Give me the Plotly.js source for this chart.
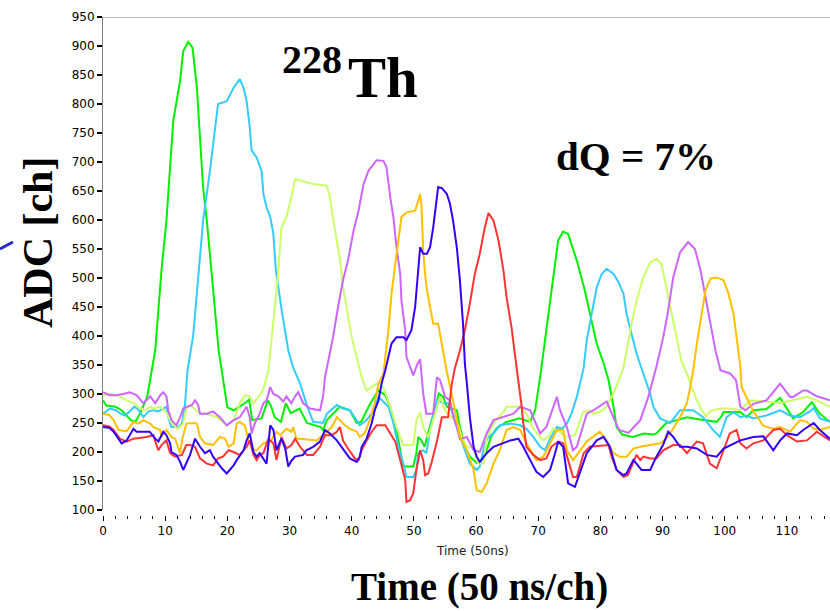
<!DOCTYPE html>
<html>
<head>
<meta charset="utf-8">
<script src="https://cdn.plot.ly/plotly-3.0.1.min.js"></script>
<style>
  html, body { margin: 0; padding: 0; background: #ffffff; }
  #chart { width: 830px; height: 611px; }
</style>
</head>
<body>
<div id="chart"></div>
<script>
// Pulse traces: [time (50 ns samples), ADC channel]
const green = [[0,289],[0.5,280],[2,278],[3,272],[4.5,255],[5.2,252],[6,267],[7.1,295],[8.4,375],[9.4,513],[10.2,599],[10.8,685],[11.3,771],[12.4,840],[12.9,891],[13.7,907],[14.4,897],[15.1,828],[15.6,731],[16.1,656],[16.7,599],[17.2,542],[17.5,513],[18.6,375],[20,277],[21,272],[22.5,282],[23.5,290],[24,255],[25.5,258],[26.5,289],[27,280],[27.6,260],[28.6,252],[29.4,284],[30.2,267],[31.6,275],[32.8,250],[35,243],[35.4,238],[36,255],[38.1,278],[39.7,272],[40.8,250],[41.5,252],[43,284],[44.3,306],[45.4,298],[46.2,278],[47.2,238],[47.8,203],[48.3,175],[49.9,175],[50.4,198],[50.7,226],[51.2,220],[51.7,209],[52.6,243],[53.6,284],[54,301],[54.7,295],[55.3,278],[56.9,272],[57.4,243],[58.2,209],[59,192],[60.1,181],[60.9,186],[61.7,203],[62.4,226],[63.3,241],[64.9,252],[67,258],[68.7,252],[69.5,272],[70.3,329],[71.3,410],[72.4,496],[73.2,565],[74,580],[74.8,576],[76.2,530],[77.5,478],[78.3,439],[79.4,387],[80.5,353],[81.3,324],[82.1,278],[82.6,243],[83.5,230],[85.2,226],[87,232],[88.5,230],[89,232],[90.6,250],[92.3,255],[93.9,260],[95.5,257],[97.1,255],[98.7,252],[99.5,262],[99.8,269],[102.5,269],[103.5,260],[104.6,272],[106.7,274],[108.9,293],[110,274],[111,258],[112.6,269],[114,286],[115.3,266],[116.9,252]];

const cyan = [[0,266],[1.1,275],[2.1,272],[2.7,267],[3.5,263],[4.3,270],[5,278],[5.5,275],[6.5,260],[7.3,270],[8.1,272],[8.9,270],[9.7,275],[10.2,278],[10.5,260],[11,243],[12.1,243],[12.7,249],[13.2,284],[13.6,341],[14.5,400],[15.6,530],[16.1,599],[17.2,685],[18,754],[18.5,800],[19.9,805],[21,828],[22,843],[22.6,828],[23.1,805],[23.6,760],[23.9,720],[24.7,708],[25.5,685],[25.8,645],[26.3,622],[26.9,605],[27.4,576],[27.8,513],[28.8,440],[29.8,375],[30.6,345],[31.7,318],[32.8,280],[33.3,266],[33.8,252],[35.4,250],[36,266],[37.6,281],[38.6,275],[39.7,272],[40.8,255],[41.3,246],[42.4,255],[43.5,272],[44.3,295],[45.1,286],[45.9,278],[46.7,250],[47.5,209],[48.3,180],[48.8,157],[49.9,157],[50.4,169],[50.7,198],[51.5,203],[52,198],[52.6,238],[53.7,289],[54.7,284],[55.5,284],[56.3,266],[56.9,243],[57.4,226],[58.2,203],[59,180],[60.1,169],[60.6,175],[61.4,215],[62,226],[62.8,232],[63.8,246],[65.5,249],[67.1,246],[68.1,240],[69.2,226],[70.3,209],[71.1,203],[71.9,223],[73,243],[73.8,240],[74.6,249],[75.4,268],[76.2,295],[76.7,318],[77.3,345],[77.8,393],[78.6,438],[79.4,484],[80.2,507],[81,516],[82.1,507],[82.9,493],[83.7,473],[84.2,438],[85,404],[85.8,370],[86.9,335],[88,301],[88.5,278],[89.6,258],[91.2,250],[92.8,272],[94.9,272],[96.5,260],[98.1,238],[99.2,226],[100.3,260],[101.4,269],[102.5,260],[103.5,263],[104.6,258],[106.7,263],[108.9,272],[110.5,263],[112.1,260],[113.7,270],[114.3,276],[115.3,258],[116.9,252]];

const lime = [[0,298],[1.5,300],[2.7,296],[3.8,289],[5,284],[6,275],[6.8,272],[7.6,278],[8.1,275],[9.2,278],[10.2,268],[11,250],[12,240],[12.8,248],[13.5,277],[14,281],[15.6,266],[16.6,266],[18.3,260],[19.3,252],[19.9,246],[21,255],[22,284],[22.8,298],[23.6,296],[24.2,284],[25.2,298],[25.8,309],[26.3,329],[26.6,341],[27.4,425],[28.2,513],[28.7,587],[29.5,605],[30.3,639],[30.9,671],[31.7,668],[33.8,662],[36,659],[36.5,639],[37,602],[37.6,568],[38.1,533],[38.6,484],[39.2,444],[40,398],[40.8,364],[41.6,329],[42.4,306],[44,318],[44.8,318],[45.5,300],[46.2,278],[47.2,243],[48.3,212],[49.9,212],[50.4,255],[51,268],[51.5,243],[52.3,225],[53.1,255],[54.2,295],[55,272],[55.8,262],[56.9,255],[57.7,226],[58.5,209],[59.5,209],[60.3,180],[61.2,180],[61.7,225],[62.2,235],[62.8,249],[64.4,269],[64.9,278],[67.1,278],[68.1,266],[69.2,240],[70.8,220],[71.6,226],[72.4,240],[73.5,235],[74.3,226],[75.9,229],[76.7,255],[77.2,269],[78.3,272],[78.9,266],[79.9,269],[81,278],[82.1,301],[83.1,329],[83.7,345],[84.8,410],[85.8,461],[86.9,501],[88,527],[89,533],[89.8,524],[90.6,484],[91.4,444],[92.2,398],[93,358],[93.9,335],[94.7,312],[95.5,289],[96.3,272],[97,262],[97.6,270],[99.2,275],[100.8,275],[102.5,272],[104.1,289],[106.7,287],[108.9,284],[111,289],[113.2,295],[114.8,289],[116.9,278]];

const violet = [[0,303],[1.1,298],[2.1,298],[3.3,300],[4.3,303],[5.4,298],[6.5,284],[7,289],[7.6,296],[8.4,284],[9.2,298],[9.7,303],[10.2,296],[10.5,272],[11,255],[11.8,246],[12.4,260],[12.9,275],[13.5,278],[14.3,281],[14.8,289],[15.3,281],[15.6,266],[16.7,266],[17.7,270],[18.8,260],[19.9,246],[21,255],[22,260],[23.1,278],[23.6,260],[23.9,232],[24.4,249],[25.2,266],[25.8,284],[26.3,289],[26.9,312],[27.4,300],[28.2,296],[29,287],[29.5,296],[30.3,284],[30.9,296],[31.4,303],[32.2,284],[33.3,275],[34.9,272],[35.4,296],[35.7,329],[36.5,370],[37,398],[37.8,450],[38.6,496],[39.4,530],[40.3,582],[41.1,616],[41.9,662],[42.7,685],[44,703],[45.1,702],[45.6,691],[46.2,639],[46.7,605],[47.2,553],[47.8,507],[48,461],[48.6,410],[48.8,364],[49.4,345],[49.9,332],[50.5,350],[51,360],[51.5,300],[52,266],[53.1,266],[53.7,329],[54.2,324],[55,295],[55.8,289],[56.3,262],[56.9,243],[57.4,222],[58.5,226],[59.6,203],[60.6,200],[61.7,232],[62.8,255],[64.4,260],[66,266],[67.1,278],[68.7,272],[70.3,232],[71.3,243],[73,295],[73.5,272],[74.6,243],[75.6,203],[76.2,209],[77.8,266],[78.9,272],[81,287],[82,262],[83,238],[84.5,233],[86.4,255],[87.7,295],[89,347],[90.1,398],[90.9,444],[91.7,501],[92.8,544],[94.1,562],[95.2,550],[96.1,513],[96.9,467],[97.7,427],[98.5,375],[99.3,341],[100.9,335],[101.8,324],[102.5,278],[103.3,272],[104.6,283],[106.7,289],[108.9,318],[110.5,295],[111,295],[112.6,306],[113.2,306],[114.8,296],[116.9,289]];

const orange = [[0,266],[1,264],[1.7,255],[2.5,238],[3.8,236],[4.9,252],[5.7,249],[6.5,255],[7.6,249],[8.1,243],[9.2,238],[9.4,226],[10.2,238],[11,226],[11.6,223],[12.4,198],[12.7,220],[13.4,249],[14.5,250],[15.1,249],[15.6,226],[16.4,215],[17.7,212],[18.8,226],[19.6,223],[20.2,209],[21,215],[21.5,249],[22,252],[22.8,246],[23.4,220],[24.2,203],[24.7,203],[25.8,215],[26.9,218],[27.9,235],[28.5,229],[29.5,240],[30.3,235],[30.6,243],[31.1,223],[31.7,223],[34.4,220],[36,235],[36.8,243],[37.6,260],[38.1,255],[38.9,246],[39.7,240],[40.8,235],[41.3,226],[42.1,232],[42.9,255],[43.7,284],[44.3,318],[45.1,335],[45.9,410],[46.4,473],[47,524],[47.5,565],[48,605],[48.8,613],[50.2,616],[50.7,633],[51,645],[51.2,628],[51.5,547],[51.8,507],[52.1,479],[52.6,450],[53.1,421],[53.9,421],[54.2,404],[54.7,375],[55.3,338],[56.3,289],[57.4,226],[58.5,203],[59.6,169],[60.1,134],[60.9,131],[61.7,146],[62.8,180],[63.8,203],[64.9,238],[66,243],[67.1,238],[68.1,215],[69.7,186],[70.8,192],[71.9,215],[73,238],[74,238],[74.6,203],[75.6,186],[76.7,203],[77.8,218],[79.9,235],[81,220],[82.1,198],[83.1,192],[84.2,192],[85.3,206],[86.4,209],[88,212],[89.6,215],[90.6,223],[91.7,240],[92.8,260],[93.9,284],[94.4,310],[94.9,340],[95.5,387],[96.3,438],[96.9,479],[97.7,499],[98.7,501],[99.8,496],[100.6,473],[101.4,438],[101.9,393],[102.5,347],[102.7,312],[103.5,295],[104.6,270],[106.2,245],[107.8,240],[108.9,243],[110.5,235],[112.1,255],[113.2,252],[114.3,240],[115.3,238],[116.9,243]];

const blue = [[0,243],[1,242],[1.7,235],[2.5,223],[3,215],[3.8,220],[4.9,240],[5.4,235],[7.5,235],[8.4,223],[8.9,218],[9.7,235],[10.2,229],[10.8,215],[11,200],[11.8,195],[12.4,183],[12.9,169],[13.4,180],[14,195],[14.8,223],[15.6,209],[16.4,198],[17.2,203],[17.7,192],[18.5,180],[19.1,172],[19.9,163],[20.4,169],[21,177],[21.5,186],[22.6,203],[23.1,220],[23.6,232],[24.2,200],[24.7,192],[25.2,198],[25.8,189],[26.3,180],[26.9,246],[27.4,238],[27.9,203],[28.7,223],[29.3,206],[29.8,175],[30.3,185],[30.9,192],[32.2,195],[32.7,203],[33.8,209],[34.9,218],[35.7,238],[36.5,232],[37.6,220],[38.6,206],[39.7,189],[40.8,183],[41.3,192],[41.6,209],[42.4,223],[43.2,249],[43.7,272],[44.3,289],[44.8,318],[45.4,341],[46.4,387],[47.2,398],[48.3,398],[48.8,393],[49.6,410],[50.2,450],[50.7,513],[51,553],[51.5,542],[52.1,542],[52.6,553],[53.1,587],[53.7,639],[53.9,657],[54.5,655],[55.3,645],[55.8,628],[56.3,599],[56.9,553],[57.4,496],[57.9,421],[58.2,352],[58.5,320],[59,260],[59.6,209],[60.1,192],[60.6,183],[61.7,198],[62.8,209],[63.8,213],[65.5,220],[66.8,223],[67.6,209],[68.7,186],[69.7,166],[70.8,157],[71.9,169],[72.7,198],[73.2,218],[74,209],[74.8,146],[75.9,140],[76.7,163],[77.8,198],[78.6,209],[79.4,220],[80.5,226],[81.5,209],[82.6,169],[83.7,160],[84.2,163],[85.3,186],[85.8,180],[86.6,169],[88,169],[89,192],[90.1,213],[90.9,235],[91.7,226],[92.8,209],[93.9,209],[95.5,206],[97.1,195],[98.7,192],[99.8,206],[102.5,220],[104.6,226],[106.2,227],[107.8,203],[108.9,220],[110,232],[111.6,229],[112.6,238],[114.3,250],[115.3,238],[116.9,223]];

const red = [[0,246],[1,244],[1.7,238],[2.7,223],[3.8,218],[4.9,223],[7,226],[8.1,229],[8.4,218],[8.9,203],[9.4,212],[10.2,220],[10.8,198],[11.6,192],[12.7,195],[13.4,212],[14,212],[14.8,209],[15.6,189],[16.7,180],[17.7,177],[18.5,189],[19.3,192],[20.2,203],[21,200],[22,195],[23.1,209],[23.6,220],[24.2,195],[24.7,186],[25.2,195],[25.8,198],[26.6,223],[27.4,215],[27.9,186],[28.7,226],[29.5,206],[30.3,212],[30.9,223],[31.7,209],[32.8,195],[33.8,195],[34.9,209],[35.7,229],[36.8,229],[37.6,235],[38.1,243],[38.6,220],[39.4,206],[40.5,189],[41.1,186],[41.6,203],[42.4,220],[43.2,235],[44,246],[45.4,246],[46.2,232],[47,218],[47.8,186],[48.6,152],[48.8,114],[49.4,117],[49.9,129],[50.4,169],[51,203],[51.5,186],[51.8,160],[52.3,163],[52.8,180],[53.7,218],[54.5,260],[55.5,260],[56.1,318],[56.6,345],[57.4,375],[58.2,410],[59,456],[59.8,507],[60.6,542],[61.4,587],[62,612],[62.8,599],[63.6,565],[64.4,513],[64.9,467],[65.7,415],[66.3,364],[66.8,327],[67.3,281],[67.6,249],[68.1,209],[69.2,195],[70.3,186],[71.3,189],[72.1,209],[73.2,218],[74,215],[74.8,186],[75.6,157],[76.2,157],[76.7,175],[77.3,198],[78.3,209],[80.5,212],[81.3,212],[81.8,192],[82.6,169],[83.7,157],[84.4,160],[85,175],[85.8,195],[86.4,186],[86.9,192],[88,189],[89,189],[90.1,203],[91.7,212],[92.8,212],[93.9,198],[95.5,218],[96.5,215],[97.6,180],[98.7,172],[99.8,203],[100.8,232],[101.9,238],[102.5,215],[103.5,206],[104.6,215],[106.2,220],[107.8,238],[108.9,240],[110,229],[111.6,218],[113.2,220],[114.8,235],[116.9,220]];

const yTickStep = 50;
const xTickStep = 10;

// Figure geometry (pixels)
const W = 830, H = 611, ML = 103, MR = 0, MT = 17, MB = 96;
const plotW = W - ML - MR, plotH = H - MT - MB;
const px = x => (x - ML) / plotW;          // pixel column -> paper x
const py = y => (H - MB - y) / plotH;      // pixel row -> paper y

const series = [
  { d: green,  c: '#00f000' },
  { d: cyan,   c: '#33ccff' },
  { d: lime,   c: '#ccff66' },
  { d: violet, c: '#cc66ff' },
  { d: orange, c: '#ffc000' },
  { d: red,    c: '#ff3333' },
  { d: blue,   c: '#3300ff' }
];

const traces = series.map(s => ({
  type: 'scatter',
  mode: 'lines',
  x: s.d.map(p => p[0]),
  y: s.d.map(p => p[1]),
  line: { color: s.c, width: 2 },
  hoverinfo: 'skip'
}));

const tickFont = { family: 'DejaVu Sans', size: 12, color: '#000' };
const serif = 'Liberation Serif, Times New Roman, serif';

const layout = {
  width: W, height: H,
  margin: { l: ML, r: MR, t: MT, b: MB, pad: 0 },
  paper_bgcolor: '#ffffff',
  plot_bgcolor: '#ffffff',
  showlegend: false,
  xaxis: {
    range: [0, plotW / 6.218],
    anchor: 'free', position: 0,
    tick0: 0, dtick: xTickStep,
    ticks: 'outside', ticklen: 5, tickwidth: 1, tickcolor: '#000',
    minor: { dtick: 2, ticks: 'outside', ticklen: 3, tickwidth: 1, tickcolor: '#000', showgrid: false },
    showline: false, showgrid: false, zeroline: false,
    tickfont: tickFont
  },
  yaxis: {
    domain: [5 / plotH, 1],
    range: [100, 950],
    tick0: 100, dtick: yTickStep,
    ticks: 'outside', ticklen: 5, tickwidth: 1.5, tickcolor: '#000',
    showline: true, linecolor: '#808080', linewidth: 1,
    showgrid: false, zeroline: false,
    tickfont: tickFont
  },
  shapes: [
    { type: 'line', xref: 'paper', yref: 'y', x0: 0, x1: 1, y0: 950, y1: 950,
      line: { color: '#808080', width: 1 } },
    { type: 'line', xref: 'paper', yref: 'paper', x0: px(0), y0: py(249), x1: px(13), y1: py(242),
      line: { color: '#2b2bcc', width: 3 } }
  ],
  annotations: [
    { text: '<b>228</b>', xref: 'paper', yref: 'paper', x: px(312), y: py(60),
      showarrow: false, xanchor: 'center', yanchor: 'middle',
      font: { family: serif, size: 40, color: '#000' } },
    { text: '<b>Th</b>', xref: 'paper', yref: 'paper', x: px(383), y: py(77),
      showarrow: false, xanchor: 'center', yanchor: 'middle',
      font: { family: serif, size: 57, color: '#000' } },
    { text: '<b>dQ = 7%</b>', xref: 'paper', yref: 'paper', x: px(636), y: py(156),
      showarrow: false, xanchor: 'center', yanchor: 'middle',
      font: { family: serif, size: 41, color: '#000' } },
    { text: '<b>ADC [ch]</b>', xref: 'paper', yref: 'paper', x: px(38), y: py(243),
      showarrow: false, xanchor: 'center', yanchor: 'middle', textangle: -90,
      font: { family: serif, size: 42, color: '#000' } },
    { text: '<b>Time (50 ns/ch)</b>', xref: 'paper', yref: 'paper', x: px(479), y: py(587),
      showarrow: false, xanchor: 'center', yanchor: 'middle',
      font: { family: serif, size: 39, color: '#000' } },
    { text: 'Time (50ns)', xref: 'paper', yref: 'paper', x: px(473), y: py(551),
      showarrow: false, xanchor: 'center', yanchor: 'middle',
      font: { family: 'DejaVu Sans', size: 12, color: '#222' } }
  ]
};

Plotly.newPlot('chart', traces, layout, { staticPlot: true, displayModeBar: false });
</script>
</body>
</html>
